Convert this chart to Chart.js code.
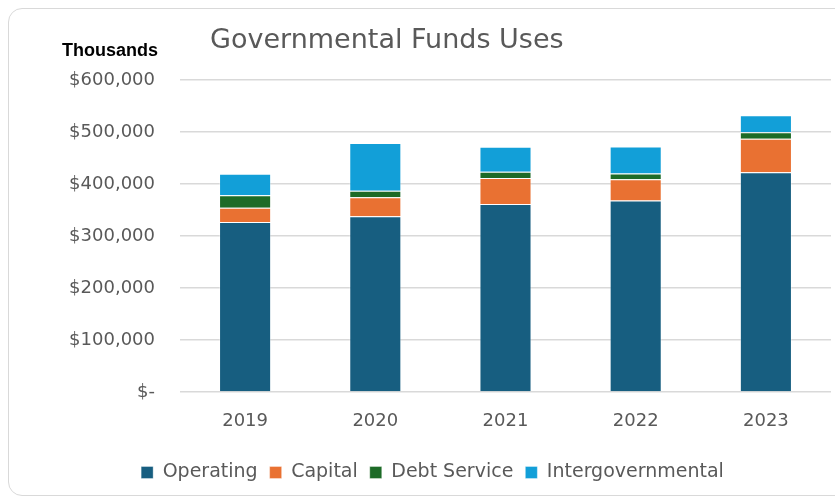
<!DOCTYPE html>
<html>
<head>
<meta charset="utf-8">
<script src="https://cdn.jsdelivr.net/npm/chart.js@4.4.1/dist/chart.umd.min.js"></script>
<style>
  html, body { margin: 0; padding: 0; background: #fff; overflow: hidden; }
  #wrap { position: relative; width: 835px; height: 500px; }
  #frame {
    position: absolute; left: 8px; top: 8px; width: 850px; height: 488px;
    border: 1px solid #d9d9d9; border-radius: 14px; box-sizing: border-box;
  }
  canvas { position: absolute; left: 0; top: 0; }
</style>
</head>
<body>
<div id="wrap">
  <div id="frame"></div>
  <canvas id="grafico" width="835" height="500"></canvas>
</div>
<script>
  // Uses of governmental funds, in thousands of dollars
  const years = ['2019', '2020', '2021', '2022', '2023'];
  const operating = [327000, 338000, 361500, 368500, 422500];
  const capital = [27500, 36500, 50000, 40500, 64500];
  const debtService = [24000, 12500, 12000, 11000, 12500];
  const intergovernmental = [41000, 92000, 48000, 52000, 32500];

  const seriesNames = ['Operating', 'Capital', 'Debt Service', 'Intergovernmental'];
  const colores = ['#175e80', '#e97132', '#1d6b27', '#129fd8'];

  const textGray = '#595959';
  const fuente = '"DejaVu Sans", Arial, sans-serif';

  // title and unit label drawn at fixed spots in the top band
  const headerText = {
    id: 'headerText',
    afterDraw(chart) {
      const ctx = chart.ctx;
      ctx.save();
      ctx.textBaseline = 'middle';
      ctx.fillStyle = '#000';
      ctx.font = 'bold 18px "Liberation Sans", Arial, sans-serif';
      ctx.textAlign = 'right';
      ctx.fillText('Thousands', 158, 51);
      ctx.fillStyle = textGray;
      ctx.font = '27px ' + fuente;
      ctx.textAlign = 'left';
      ctx.fillText('Governmental Funds Uses', 210, 41);
      ctx.restore();
    }
  };

  const datasets = [operating, capital, debtService, intergovernmental].map((valores, i) => ({
    label: seriesNames[i],
    data: valores,
    backgroundColor: colores[i],
    borderColor: 'rgba(255,255,255,0.35)',
    borderWidth: 1,
    barPercentage: 0.4,
    categoryPercentage: 1
  }));

  const ctx = document.getElementById('grafico').getContext('2d');
  new Chart(ctx, {
    type: 'bar',
    data: { labels: years, datasets },
    plugins: [headerText],
    options: {
      responsive: false,
      animation: false,
      layout: { padding: { top: 80, right: 4, bottom: 8, left: 34 } },
      scales: {
        x: {
          stacked: true,
          grid: { display: false },
          border: { display: false },
          afterFit(scale) { scale.height = 59; },
          ticks: {
            color: textGray,
            padding: 11,
            font: { family: fuente, size: 18 }
          }
        },
        y: {
          stacked: true,
          min: 0,
          max: 600000,
          afterFit(scale) { scale.width = 146; },
          border: { display: false },
          grid: { color: '#d9d9d9', lineWidth: 1.5, drawTicks: false },
          ticks: {
            stepSize: 100000,
            color: textGray,
            padding: 25,
            font: { family: fuente, size: 18 },
            callback: v => v === 0 ? '$-' : '$' + v.toLocaleString('en-US')
          }
        }
      },
      plugins: {
        title: { display: false },
        tooltip: { enabled: false },
        legend: {
          position: 'bottom',
          labels: {
            color: textGray,
            boxWidth: 12,
            boxHeight: 12,
            padding: 12,
            font: { family: fuente, size: 19 }
          }
        }
      }
    }
  });
</script>
</body>
</html>
